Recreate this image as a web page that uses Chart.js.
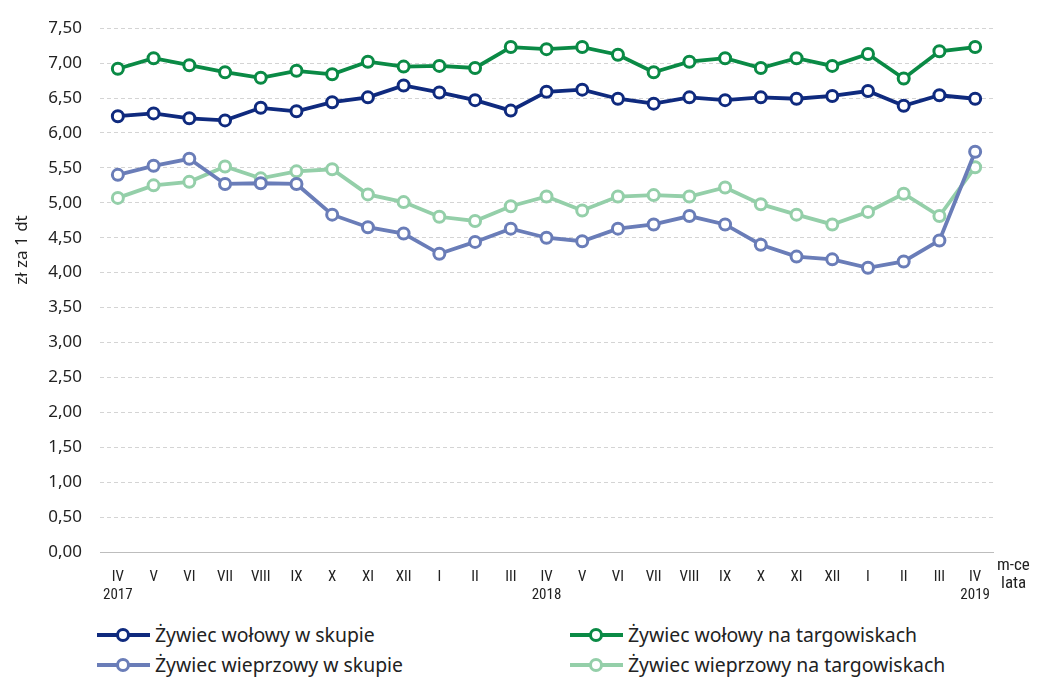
<!DOCTYPE html>
<html>
<head>
<meta charset="utf-8">
<script src="https://cdn.jsdelivr.net/npm/chart.js@4.4.0/dist/chart.umd.min.js"></script>
<style>
  html, body { margin: 0; padding: 0; background: #fff; }
  #wrap { position: relative; width: 1043px; height: 677px; }
  #box { position: absolute; left: 0; top: 0; width: 1043px; height: 610px; }
  .leg { position: absolute; display: flex; align-items: center;
         font-family: 'Noto Sans', 'Open Sans', sans-serif;
         font-size: 19.4px; color: #222; white-space: nowrap; }
  .leg .mk { position: relative; width: 53px; height: 16px; margin-right: 5px; }
  .leg .ln { position: absolute; left: 0; right: 0; top: 6px; height: 4px; }
  .leg .dot { position: absolute; left: 19px; top: 1px; width: 8px; height: 8px;
              border: 3px solid; border-radius: 50%; background: #fff; }
</style>
</head>
<body>
<div id="wrap">
  <div id="box"><canvas id="c"></canvas></div>
  <div id="legend"></div>
</div>
<script>
// ── Dane ───────────────────────────────────────────────────
var miesiace = ['IV','V','VI','VII','VIII','IX','X','XI','XII','I','II','III',
                'IV','V','VI','VII','VIII','IX','X','XI','XII','I','II','III','IV'];
var lata = { 0: '2017', 12: '2018', 24: '2019' };

var wolowySkup = [6.24, 6.28, 6.21, 6.18, 6.36, 6.31, 6.44, 6.51, 6.68, 6.58, 6.47, 6.32,
                  6.59, 6.62, 6.49, 6.42, 6.51, 6.47, 6.51, 6.49, 6.53, 6.60, 6.39, 6.54, 6.49];
var wolowyTarg = [6.92, 7.07, 6.97, 6.87, 6.79, 6.89, 6.84, 7.02, 6.95, 6.96, 6.93, 7.23,
                  7.20, 7.23, 7.12, 6.87, 7.02, 7.07, 6.93, 7.07, 6.96, 7.13, 6.78, 7.17, 7.23];
var wieprzSkup = [5.40, 5.53, 5.63, 5.27, 5.28, 5.27, 4.83, 4.65, 4.56, 4.27, 4.44, 4.63,
                  4.50, 4.45, 4.63, 4.69, 4.81, 4.69, 4.40, 4.23, 4.19, 4.07, 4.16, 4.46, 5.73];
var wieprzTarg = [5.07, 5.25, 5.30, 5.52, 5.35, 5.45, 5.48, 5.12, 5.01, 4.80, 4.74, 4.95,
                  5.09, 4.89, 5.09, 5.11, 5.09, 5.22, 4.98, 4.83, 4.69, 4.87, 5.13, 4.81, 5.51];

var serieNazwy = ['Żywiec wołowy w skupie', 'Żywiec wołowy na targowiskach',
                  'Żywiec wieprzowy w skupie', 'Żywiec wieprzowy na targowiskach'];
var serieKolory = ['#0f2a7e', '#0a8a45', '#6a7db8', '#94cfa9'];

// ── Pomocnicze ─────────────────────────────────────────────
var FONT_N = "'Liberation Sans Narrow', 'Roboto Condensed', 'DejaVu Sans Condensed', sans-serif";
var FONT_R = "'Noto Sans', 'Open Sans', sans-serif";

var etykiety = miesiace.map(function (m, i) { return lata[i] ? [m, lata[i]] : m; });

function seria(i, dane) {
  return {
    label: serieNazwy[i], data: dane,
    borderColor: serieKolory[i], backgroundColor: '#fff',
    borderWidth: 3.8, pointRadius: 5.5, pointBorderWidth: 3,
    pointBackgroundColor: '#fff', pointBorderColor: serieKolory[i],
    tension: 0
  };
}

// Tytuł osi Y i opis osi X rysowane ręcznie
var opisyOsi = {
  id: 'opisyOsi',
  afterDraw: function (chart) {
    var ctx = chart.ctx;
    ctx.save();
    ctx.fillStyle = '#222';
    ctx.font = '17px ' + FONT_R;
    ctx.translate(22, 250);
    ctx.rotate(-Math.PI / 2);
    ctx.textAlign = 'center';
    ctx.textBaseline = 'middle';
    ctx.fillText('zł za 1 dt', 0, 0);
    ctx.restore();

    ctx.save();
    ctx.fillStyle = '#222';
    ctx.font = '17px ' + FONT_N;
    ctx.textAlign = 'left';
    ctx.textBaseline = 'middle';
    ctx.fillText('m-ce', 997, 566);
    ctx.fillText('lata', 1001, 584);
    ctx.restore();
  }
};

new Chart(document.getElementById('c'), {
  type: 'line',
  data: {
    labels: etykiety,
    datasets: [seria(0, wolowySkup), seria(1, wolowyTarg), seria(2, wieprzSkup), seria(3, wieprzTarg)]
  },
  plugins: [opisyOsi],
  options: {
    responsive: true, maintainAspectRatio: false, animation: false,
    layout: { padding: { top: 25, right: 50, left: 0, bottom: 0 } },
    plugins: { legend: { display: false }, tooltip: { enabled: false } },
    scales: {
      x: {
        offset: true,
        grid: { display: false },
        border: { display: true, color: '#bdbdbd', width: 1 },
        ticks: { color: '#222', font: { family: FONT_N, size: 15, lineHeight: 1.2 },
                 padding: 8, maxRotation: 0, autoSkip: false },
        afterFit: function (s) { s.height = 58; }
      },
      y: {
        min: 0, max: 7.5,
        grid: { color: function (c) { return c.tick.value === 0 ? 'rgba(0,0,0,0)' : '#d4d4d4'; },
                lineWidth: 1, drawTicks: false },
        border: { display: false, dash: [4, 3] },
        ticks: { stepSize: 0.5, color: '#222', padding: 18,
                 font: { family: FONT_R, size: 17 },
                 callback: function (v) { return v.toFixed(2).replace('.', ','); } },
        afterFit: function (s) { s.width = 100; }
      }
    }
  }
});

// ── Legenda HTML ───────────────────────────────────────────
var legPoz = [[97, 621], [570, 621], [97, 651], [570, 651]];
var leg = document.getElementById('legend');
serieNazwy.forEach(function (n, i) {
  var d = document.createElement('div');
  d.className = 'leg';
  d.style.left = legPoz[i][0] + 'px';
  d.style.top = legPoz[i][1] + 'px';
  d.innerHTML = '<span class="mk"><span class="ln" style="background:' + serieKolory[i] + '"></span>' +
                '<span class="dot" style="border-color:' + serieKolory[i] + '"></span></span>' + n;
  leg.appendChild(d);
});
</script>
</body>
</html>
